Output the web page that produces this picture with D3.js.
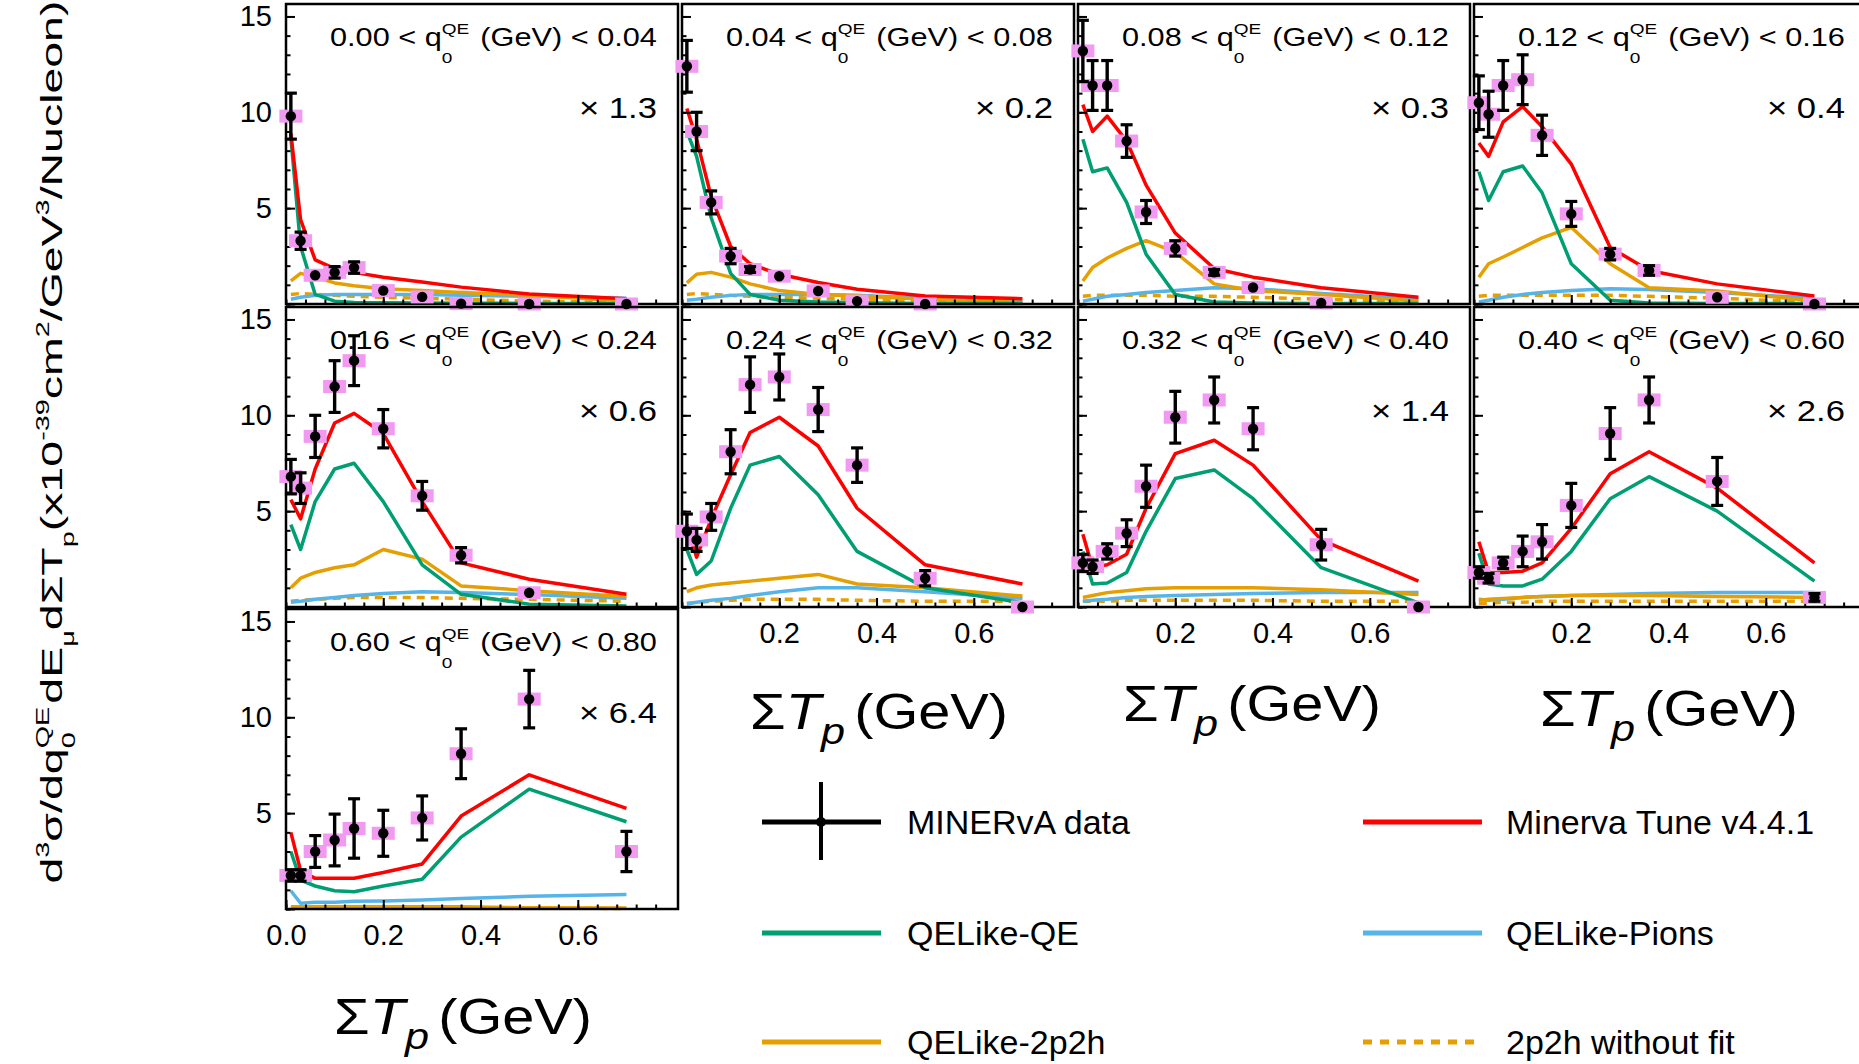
<!DOCTYPE html>
<html><head><meta charset="utf-8">
<script src="https://cdn.jsdelivr.net/npm/d3@7"></script>
<style>
html,body{margin:0;padding:0;background:#fff;}
svg{display:block;white-space:pre;}
text{font-family:'Liberation Sans',Arial,Helvetica,sans-serif;fill:#000;}
</style>
</head><body>
<svg id="c" width="1859" height="1064"></svg>
<script>
// ---------------- DATA ----------------
const binCenters = [0.01, 0.03, 0.06, 0.10, 0.14, 0.20, 0.28, 0.36, 0.50, 0.70];
const q0Low  = ['0.00','0.04','0.08','0.12','0.16','0.24','0.32','0.40','0.60'];
const q0High = ['0.04','0.08','0.12','0.16','0.24','0.32','0.40','0.60','0.80'];
const scaleFactors = ['1.3','0.2','0.3','0.4','0.6',null,'1.4','2.6','6.4'];
const yTickValues = [0, 5, 10, 15];
const yTickLabels = ['', '5', '10', '15'];
const xTickValues = [0, 0.2, 0.4, 0.6];
const xTickLabels = ['0.0', '0.2', '0.4', '0.6'];

const dataVals = [
  [9.8, 3.3, 1.5, 1.65, 1.9, 0.7, 0.37, 0.02, 0.0, 0.0],
  [12.4, 9.0, 5.3, 2.5, 1.8, 1.45, 0.68, 0.15, 0.0, null],
  [13.2, 11.4, 11.4, 8.5, 4.8, 2.9, 1.65, 0.86, 0.05, null],
  [10.5, 9.9, 11.4, 11.7, 8.8, 4.7, 2.6, 1.75, 0.35, 0.0],
  [6.8, 6.2, 8.9, 11.5, 12.85, 9.3, 5.8, 2.7, 0.74, null],
  [3.95, 3.5, 4.7, 8.1, 11.6, 12.0, 10.3, 7.4, 1.5, 0.0],
  [2.3, 2.1, 2.9, 3.85, 6.3, 9.9, 10.8, 9.3, 3.25, 0.0],
  [1.8, 1.5, 2.3, 2.9, 3.4, 5.3, 9.05, 10.8, 6.55, 0.5],
  [1.75, 1.75, 3.0, 3.6, 4.2, 3.95, 4.75, 8.1, 10.95, 3.0]
];
const dataErrs = [
  [1.2, 0.45, 0.12, 0.3, 0.3, 0.1, 0.1, 0.05, 0.03, 0.03],
  [1.35, 1.0, 0.6, 0.4, 0.15, 0.1, 0.1, 0.05, 0.03, 0],
  [1.6, 1.3, 1.3, 0.85, 0.6, 0.4, 0.15, 0.1, 0.05, 0],
  [1.4, 1.2, 1.3, 1.3, 1.05, 0.65, 0.3, 0.25, 0.1, 0.05],
  [0.9, 0.8, 1.1, 1.35, 1.3, 1.0, 0.75, 0.4, 0.1, 0],
  [0.9, 0.6, 0.7, 1.15, 1.45, 1.2, 1.15, 0.9, 0.4, 0.05],
  [0.45, 0.35, 0.4, 0.7, 1.1, 1.35, 1.2, 1.1, 0.8, 0.05],
  [0.3, 0.25, 0.3, 0.8, 0.9, 1.15, 1.35, 1.2, 1.25, 0.2],
  [0.3, 0.3, 0.83, 1.35, 1.55, 1.2, 1.15, 1.3, 1.5, 1.05]
];
const tuneVals = [
  [8.9, 4.4, 2.3, 1.85, 1.65, 1.4, 1.15, 0.88, 0.52, 0.28],
  [10.2, 8.6, 5.6, 3.0, 2.1, 1.55, 1.12, 0.77, 0.42, 0.28],
  [10.4, 9.0, 9.8, 8.5, 6.2, 3.7, 1.85, 1.4, 0.85, 0.35],
  [8.4, 7.7, 9.5, 10.3, 9.25, 7.3, 2.95, 1.75, 1.05, 0.42],
  [5.6, 4.6, 7.2, 9.6, 10.1, 9.05, 5.5, 2.3, 1.45, 0.66],
  [4.3, 2.6, 4.6, 6.9, 9.1, 9.9, 8.4, 5.15, 2.2, 1.2],
  [3.8, 2.05, 2.2, 2.75, 5.15, 8.0, 8.7, 7.4, 3.5, 1.35],
  [3.4, 1.8, 1.8, 1.87, 2.3, 4.1, 6.95, 8.1, 6.2, 2.3],
  [4.0, 2.0, 1.6, 1.6, 1.6, 1.9, 2.35, 4.85, 7.0, 5.25]
];
const qeVals = [
  [8.7, 3.0, 0.5, 0.15, 0.08, 0.06, 0.05, 0.04, 0.03, 0.02],
  [9.0, 7.7, 4.5, 1.6, 0.5, 0.2, 0.1, 0.06, 0.03, 0.02],
  [8.6, 6.9, 7.1, 5.3, 2.6, 0.5, 0.1, 0.05, 0.03, 0.02],
  [6.9, 5.4, 6.9, 7.2, 5.8, 2.1, 0.2, 0.05, 0.03, 0.02],
  [4.3, 3.0, 5.5, 7.2, 7.5, 5.5, 2.2, 0.66, 0.15, 0.05],
  [3.0, 1.7, 2.4, 5.15, 7.4, 7.85, 5.85, 2.9, 1.0, 0.22],
  [2.9, 1.2, 1.25, 1.8, 3.95, 6.7, 7.15, 5.65, 2.05, 0.22],
  [2.8, 1.2, 1.1, 1.1, 1.45, 2.9, 5.65, 6.8, 5.0, 1.35],
  [3.0, 1.5, 1.2, 0.95, 0.9, 1.2, 1.55, 3.75, 6.25, 4.55]
];
const pionVals = [
  [0.25, 0.35, 0.45, 0.5, 0.5, 0.5, 0.5, 0.45, 0.4, 0.3],
  [0.2, 0.25, 0.35, 0.45, 0.5, 0.5, 0.5, 0.45, 0.3, 0.15],
  [0.15, 0.25, 0.4, 0.5, 0.6, 0.7, 0.85, 0.8, 0.55, 0.25],
  [0.1, 0.2, 0.35, 0.5, 0.6, 0.7, 0.8, 0.75, 0.6, 0.3],
  [0.25, 0.3, 0.4, 0.5, 0.6, 0.7, 0.8, 0.75, 0.65, 0.45],
  [0.15, 0.25, 0.35, 0.45, 0.6, 0.8, 1.0, 1.0, 0.8, 0.45],
  [0.3, 0.35, 0.4, 0.5, 0.55, 0.6, 0.65, 0.7, 0.75, 0.75],
  [0.4, 0.35, 0.4, 0.5, 0.55, 0.6, 0.65, 0.7, 0.75, 0.75],
  [0.95, 0.3, 0.35, 0.35, 0.4, 0.42, 0.47, 0.55, 0.66, 0.75]
];
const mecVals = [
  [1.2, 1.6, 1.4, 1.1, 0.95, 0.8, 0.7, 0.6, 0.45, 0.15],
  [1.1, 1.55, 1.65, 1.4, 1.05, 0.7, 0.5, 0.42, 0.25, 0.08],
  [1.2, 1.9, 2.4, 2.9, 3.3, 2.7, 1.05, 0.7, 0.5, 0.15],
  [1.4, 2.1, 2.45, 2.95, 3.45, 4.0, 2.1, 0.85, 0.68, 0.16],
  [1.0, 1.5, 1.8, 2.05, 2.2, 3.0, 2.5, 1.1, 0.85, 0.55],
  [0.8, 1.0, 1.15, 1.25, 1.35, 1.5, 1.7, 1.2, 1.0, 0.57],
  [0.5, 0.6, 0.75, 0.85, 0.95, 1.0, 1.0, 1.0, 0.9, 0.65],
  [0.35, 0.4, 0.45, 0.5, 0.55, 0.6, 0.6, 0.6, 0.55, 0.5],
  [0.12, 0.12, 0.12, 0.12, 0.12, 0.12, 0.12, 0.12, 0.06, 0.05]
];
const mecNoFitVals = [
  [0.5, 0.55, 0.5, 0.45, 0.4, 0.35, 0.3, 0.25, 0.15, 0.08],
  [0.5, 0.55, 0.5, 0.45, 0.4, 0.35, 0.3, 0.25, 0.15, 0.08],
  [0.4, 0.45, 0.45, 0.45, 0.45, 0.4, 0.4, 0.35, 0.25, 0.1],
  [0.4, 0.45, 0.45, 0.45, 0.45, 0.45, 0.45, 0.4, 0.3, 0.1],
  [0.3, 0.35, 0.4, 0.45, 0.5, 0.5, 0.5, 0.45, 0.4, 0.3],
  [0.2, 0.25, 0.3, 0.35, 0.4, 0.4, 0.4, 0.35, 0.3, 0.3],
  [0.3, 0.3, 0.3, 0.35, 0.35, 0.35, 0.35, 0.35, 0.3, 0.3],
  [0.2, 0.2, 0.25, 0.25, 0.3, 0.3, 0.3, 0.3, 0.3, 0.3],
  [0.05, 0.05, 0.05, 0.05, 0.05, 0.05, 0.05, 0.05, 0.04, 0.03]
];
const legendLabels = ['MINERvA data', 'Minerva Tune v4.4.1', 'QELike-QE', 'QELike-Pions', 'QELike-2p2h', '2p2h without fit'];

// ---------------- LAYOUT ----------------
const svg = d3.select('#c');
const colLeft = [286, 682, 1078, 1474], rowTop = [4, 307, 609];
const PW = 392, PH = 300;
const x = d3.scaleLinear().domain([0, 0.806]).range([0, PW]);
const y = d3.scaleLinear().domain([0, 15.65]).range([PH, 0]);
const C = {tune: '#ff0000', qe: '#009e73', pions: '#56b4e9', mec: '#e69f00', pink: '#f29af2'};
const SANS = "'Liberation Sans',Arial,sans-serif";

function rich(parent, segs, size, family) {
  const g = parent.append('g');
  let cx = 0;
  for (const s of segs) {
    const seg = (typeof s === 'string') ? {t: s} : s;
    const fam = seg.family || family;
    const sty = seg.style || 'normal';
    if (seg.t !== undefined) {
      const t = g.append('text').attr('x', cx).attr('y', 0).attr('font-size', size)
        .attr('font-family', fam).attr('font-style', sty).text(seg.t);
      cx += t.node().getComputedTextLength();
    } else {
      const fs = size * (seg.scale || 0.62);
      let w = 0;
      if (seg.sup) {
        const t = g.append('text').attr('x', cx).attr('y', -size * (seg.supShift || 0.5)).attr('font-size', fs)
          .attr('font-family', fam).attr('font-style', sty).text(seg.sup);
        w = Math.max(w, t.node().getComputedTextLength());
      }
      if (seg.sub) {
        const t = g.append('text').attr('x', cx).attr('y', size * (seg.subShift || 0.35)).attr('font-size', fs)
          .attr('font-family', fam).attr('font-style', sty).text(seg.sub);
        w = Math.max(w, t.node().getComputedTextLength());
      }
      cx += w + (seg.pad || 0);
    }
  }
  return {g, w: cx};
}
function place(r, X, Y, targetW, anchor) {
  const sx = targetW ? targetW / r.w : 1;
  const off = anchor === 'end' ? -r.w : anchor === 'middle' ? -r.w / 2 : 0;
  r.g.attr('transform', `translate(${X},${Y}) scale(${sx},1) translate(${off},0)`);
}

const lineGen = d3.line().x((d, i) => x(binCenters[i])).y(d => y(d));

for (let i = 0; i < 9; i++) {
  const r = Math.floor(i / 4), c = i % 4;
  const g = svg.append('g').attr('transform', `translate(${colLeft[c]},${rowTop[r]})`);

  // annotation (drawn under the data)
  const ann = rich(g, [q0Low[i] + ' < q', {sup: 'QE', sub: '0', subShift: 0.7, supShift: 0.5, pad: 9}, '(GeV) < ' + q0High[i]], 25, SANS);
  place(ann, PW - 21, 42, 327, 'end');
  if (scaleFactors[i]) {
    const m = rich(g, ['\u00d7 ' + scaleFactors[i]], 30, SANS);
    place(m, PW - 21, 114, 78, 'end');
  }

  // model lines
  const series = [
    {v: mecNoFitVals[i], col: C.mec, dash: '8,6'},
    {v: pionVals[i], col: C.pions},
    {v: mecVals[i], col: C.mec},
    {v: qeVals[i], col: C.qe},
    {v: tuneVals[i], col: C.tune}
  ];
  series.forEach(s => {
    g.append('path').datum(s.v).attr('d', lineGen).attr('fill', 'none')
      .attr('stroke', s.col).attr('stroke-width', 3.5).attr('stroke-linejoin', 'round')
      .attr('stroke-dasharray', s.dash || null);
  });

  // axes (ticks pointing inward)
  const isBottom = (i === 8) || (r === 1 && c > 0);
  const yMaj = d3.axisLeft(y).tickValues(yTickValues).tickSize(-9).tickPadding(14)
    .tickFormat((d, k) => c === 0 ? yTickLabels[k] : '');
  const yMin = d3.axisLeft(y).tickValues(d3.range(0, 16, 1)).tickSize(-4.5).tickFormat('');
  const xVals = (i === 8) ? xTickValues : xTickValues.slice(1);
  const xLabs = (i === 8) ? xTickLabels : xTickLabels.slice(1);
  const xMaj = d3.axisBottom(x).tickValues(xVals).tickSize(-9).tickPadding(15)
    .tickFormat((d, k) => isBottom ? xLabs[k] : '');
  const xMin = d3.axisBottom(x).tickValues(d3.range(0, 0.8, 0.04)).tickSize(-4.5).tickFormat('');
  [yMin, yMaj].forEach(ax => {
    const a = g.append('g').call(ax);
    a.select('.domain').remove();
    a.selectAll('line').attr('stroke', '#000').attr('stroke-width', 2);
    a.selectAll('text').attr('font-size', 29).attr('font-family', SANS).attr('fill', '#000');
  });
  [xMin, xMaj].forEach(ax => {
    const a = g.append('g').attr('transform', `translate(0,${PH})`).call(ax);
    a.select('.domain').remove();
    a.selectAll('line').attr('stroke', '#000').attr('stroke-width', 2);
    a.selectAll('text').attr('font-size', 29).attr('font-family', SANS).attr('fill', '#000');
  });

  // frame
  g.append('rect').attr('width', PW).attr('height', PH).attr('fill', 'none')
    .attr('stroke', '#000').attr('stroke-width', 2.5);

  // data: pink boxes, error bars, markers
  const pts = dataVals[i].map((v, k) => ({x: binCenters[k], v, e: dataErrs[i][k]})).filter(d => d.v !== null);
  g.selectAll('rect.pk').data(pts).join('rect').attr('class', 'pk')
    .attr('x', d => x(d.x) - 11.5).attr('y', d => y(d.v) - 6.5).attr('width', 23).attr('height', 13)
    .attr('fill', C.pink);
  const eb = g.selectAll('g.eb').data(pts.filter(d => d.e > 0.12)).join('g').attr('class', 'eb');
  eb.append('line').attr('x1', d => x(d.x)).attr('x2', d => x(d.x))
    .attr('y1', d => y(d.v + d.e)).attr('y2', d => y(d.v - d.e)).attr('stroke', '#000').attr('stroke-width', 3.4);
  eb.append('line').attr('x1', d => x(d.x) - 6).attr('x2', d => x(d.x) + 6)
    .attr('y1', d => y(d.v + d.e)).attr('y2', d => y(d.v + d.e)).attr('stroke', '#000').attr('stroke-width', 3.2);
  eb.append('line').attr('x1', d => x(d.x) - 6).attr('x2', d => x(d.x) + 6)
    .attr('y1', d => y(d.v - d.e)).attr('y2', d => y(d.v - d.e)).attr('stroke', '#000').attr('stroke-width', 3.2);
  g.selectAll('circle.dp').data(pts).join('circle').attr('class', 'dp')
    .attr('cx', d => x(d.x)).attr('cy', d => y(d.v)).attr('r', 5.2).attr('fill', '#000');
}

// y-axis title
const yt = rich(svg, ['d', {sup: '3', supShift: 0.45}, '\u03c3/dq', {sup: 'QE', sub: '0', supShift: 0.45, subShift: 0.42, pad: 2},
  'dE', {sub: '\u03bc', subShift: 0.4}, 'd\u03a3T', {sub: 'p', subShift: 0.4}, ' (x10', {sup: '-39', supShift: 0.45},
  ' cm', {sup: '2', supShift: 0.45}, '/GeV', {sup: '3', supShift: 0.45}, '/Nucleon)'], 30, SANS);
yt.g.attr('transform', `translate(62,442) rotate(-90) scale(${883 / yt.w},1) translate(${-yt.w / 2},0)`);

// big x-axis titles
const xTitlePos = [[463, 1034], [879, 729], [1252, 721], [1669, 726]];
xTitlePos.forEach(p => {
  const t = rich(svg, [{t: '\u03a3', family: "'Liberation Serif',serif"}, {t: 'T', family: "'DejaVu Serif',serif", style: 'italic'},
    {sub: 'p', family: "'DejaVu Serif',serif", style: 'italic', scale: 0.75, subShift: 0.3, pad: 8}, {t: '(GeV)', family: "Lato,'Open Sans',sans-serif"}], 50, SANS);
  place(t, p[0], p[1], 258, 'middle');
});

// legend
const legX = [762, 1363], legTextX = [907, 1506], legY = [822, 933, 1042];
const legStyles = [
  {type: 'data'}, {col: C.tune}, {col: C.qe}, {col: C.pions}, {col: C.mec}, {col: C.mec, dash: '9,8'}
];
legendLabels.forEach((lab, k) => {
  const col = k % 2, row = Math.floor(k / 2);
  const yy = legY[row], x0 = legX[col];
  const st = legStyles[k];
  if (st.type === 'data') {
    svg.append('line').attr('x1', x0).attr('x2', x0 + 119).attr('y1', yy).attr('y2', yy).attr('stroke', '#000').attr('stroke-width', 5);
    svg.append('line').attr('x1', x0 + 59).attr('x2', x0 + 59).attr('y1', yy - 40).attr('y2', yy + 38).attr('stroke', '#000').attr('stroke-width', 4);
    svg.append('circle').attr('cx', x0 + 59).attr('cy', yy).attr('r', 5).attr('fill', '#000');
  } else {
    svg.append('line').attr('x1', x0).attr('x2', x0 + 119).attr('y1', yy).attr('y2', yy)
      .attr('stroke', st.col).attr('stroke-width', 5).attr('stroke-dasharray', st.dash || null);
  }
  svg.append('text').attr('x', legTextX[col]).attr('y', yy + 12).attr('font-size', 34).attr('font-family', SANS).text(lab);
});
</script>
</body></html>
